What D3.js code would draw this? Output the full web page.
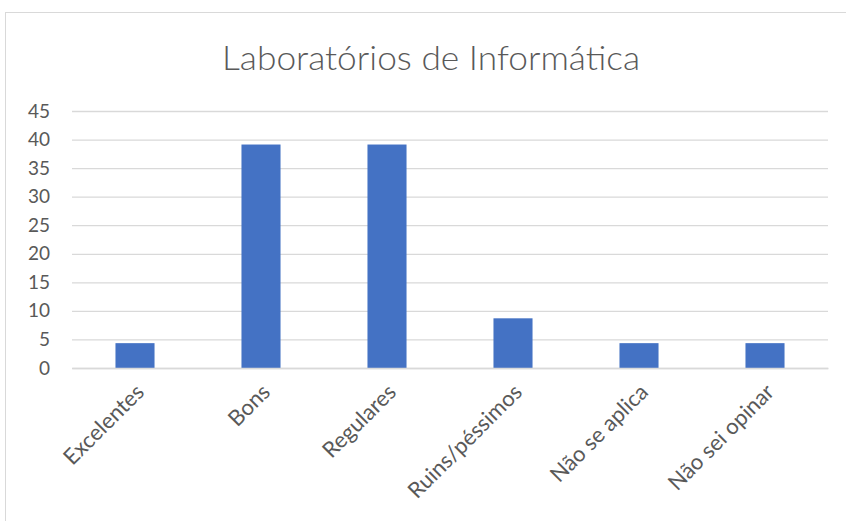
<!DOCTYPE html>
<html><head><meta charset="utf-8">
<script src="https://cdn.jsdelivr.net/npm/d3@7"></script>
<style>body{margin:0;background:#fff}svg{display:block}</style>
</head><body>
<script>
const categories = ["Excelentes","Bons","Regulares","Ruins/péssimos","Não se aplica","Não sei opinar"];
const values = [4.35, 39.13, 39.13, 8.7, 4.35, 4.35];
const yTicks = [0,5,10,15,20,25,30,35,40,45];
const title = "Laboratórios de Informática";

const W = 846, H = 521;
const svg = d3.select("body").append("svg").attr("width", W).attr("height", H);
const font = "Lato, 'Open Sans', sans-serif";

svg.append("rect").attr("x",5.5).attr("y",12.5).attr("width",W+10).attr("height",H+10)
  .attr("fill","#fff").attr("stroke","#d9d9d9");

const m = {left:72, right:828, top:111, bottom:368};
const x = d3.scaleBand().domain(categories).range([m.left, m.right]).paddingInner(0.69).paddingOuter(0.345);
const y = d3.scaleLinear().domain([0,45]).range([m.bottom, m.top]);

svg.append("text").attr("x",431).attr("y",70).attr("text-anchor","middle")
  .attr("font-family",font).attr("font-weight",300).attr("font-size",34).attr("fill","#595959")
  .attr("textLength",418).attr("lengthAdjust","spacingAndGlyphs").text(title);

const yAxis = d3.axisLeft(y).tickValues(yTicks).tickSize(-(m.right-m.left)).tickPadding(22);
const gy = svg.append("g").attr("transform",`translate(${m.left},0)`).call(yAxis);
gy.select(".domain").remove();
gy.selectAll("line").attr("stroke","#d9d9d9").attr("stroke-width",1.3);
gy.selectAll("text").attr("font-family",font).attr("font-size",19).attr("fill","#595959");

svg.selectAll("rect.bar").data(values).enter().append("rect").attr("class","bar")
  .attr("x",(d,i)=>x(categories[i])).attr("width",x.bandwidth())
  .attr("y",d=>y(d)).attr("height",d=>y(0)-y(d)).attr("fill","#4472C4");

const xAxis = d3.axisBottom(x).tickSize(0).tickPadding(0);
const gx = svg.append("g").attr("transform",`translate(0,${m.bottom})`).call(xAxis);
gx.select(".domain").attr("stroke","#d9d9d9").attr("stroke-width",1.3);
gx.selectAll("text").attr("font-family",font).attr("font-size",22).attr("fill","#595959")
  .attr("text-anchor","end").attr("dy","0.35em")
  .attr("transform","translate(5,20) rotate(-45)");
</script>
</body></html>
